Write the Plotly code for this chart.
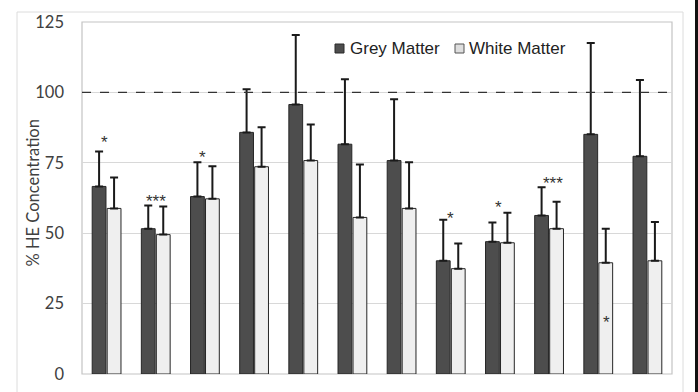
import plotly.graph_objects as go

categories = [f"Region {i}" for i in range(1, 13)]
grey_matter = [66.6, 51.6, 63.0, 85.8, 95.7, 81.6, 75.8, 40.2, 47.0, 56.3, 85.1, 77.3]
grey_err_top = [79.0, 59.8, 75.2, 101.1, 120.4, 104.7, 97.6, 54.8, 53.8, 66.3, 117.5, 104.4]
white_matter = [58.8, 49.5, 62.2, 73.6, 75.8, 55.6, 58.8, 37.4, 46.6, 51.6, 39.5, 40.2]
white_err_top = [69.8, 59.5, 73.8, 87.6, 88.6, 74.4, 75.2, 46.3, 57.3, 61.2, 51.6, 54.0]
series_names = ["Grey Matter", "White Matter"]
y_title = "% HE Concentration"
# significance markers: (category index, label, y value, pixel shift)
sig_marks = [(0, "*", 84, -2), (1, "***", 63, 0), (2, "*", 78.6, -2), (7, "*", 57, 0),
             (8, "*", 60.9, -1), (9, "***", 69.4, 4), (10, "*", 19.9, 8)]
y_ticks = [0, 25, 50, 75, 100, 125]

grey_err = [t - v for t, v in zip(grey_err_top, grey_matter)]
white_err = [t - v for t, v in zip(white_err_top, white_matter)]

W, H = 698, 392
L, R, T, B = 82, 26, 22, 18
PW, PH = W - L - R, H - T - B


def px_x(px):
    return (px - L) / PW


def px_y(py):
    return (H - B - py) / PH


GREY_FILL, WHITE_FILL = "#4d4d4d", "#efefef"

fig = go.Figure()
fig.add_trace(go.Bar(
    x=categories, y=grey_matter, name=series_names[0], showlegend=False,
    marker=dict(color=GREY_FILL, line=dict(color="#262626", width=1)),
    error_y=dict(type="data", symmetric=False, array=grey_err,
                 arrayminus=[0] * len(grey_err), color="#1a1a1a", thickness=2, width=4),
))
fig.add_trace(go.Bar(
    x=categories, y=white_matter, name=series_names[1], showlegend=False,
    marker=dict(color=WHITE_FILL, line=dict(color="#262626", width=1)),
    error_y=dict(type="data", symmetric=False, array=white_err,
                 arrayminus=[0] * len(white_err), color="#1a1a1a", thickness=2, width=4),
))

for idx, label, yv, sh in sig_marks:
    fig.add_annotation(x=categories[idx], y=yv, text=label, showarrow=False,
                       xshift=sh, yshift=-5, yanchor="middle",
                       font=dict(family="Liberation Sans", size=17, color="#333333"))

# legend (drawn manually to match the compact spacing)
legend_items = [(335, 348, GREY_FILL, "#2a2a2a"), (455, 467, "#dedede", "#555555")]
for (sx, tx, fill, edge), name in zip(legend_items, series_names):
    fig.add_shape(type="rect", xref="paper", yref="paper", x0=px_x(sx), x1=px_x(sx + 9),
                  y0=px_y(53), y1=px_y(44), fillcolor=fill, line=dict(color=edge, width=1))
    fig.add_annotation(xref="paper", yref="paper", x=px_x(tx), y=px_y(48.5), text=name,
                       showarrow=False, xanchor="left", yanchor="middle",
                       font=dict(family="Liberation Sans", size=17, color="#222222"))

# y-axis title
fig.add_annotation(xref="paper", yref="paper", x=px_x(32), y=px_y(193.5), text=y_title,
                   textangle=-90, showarrow=False, xanchor="center", yanchor="middle",
                   font=dict(family="Lato, Liberation Sans", size=16.5, color="#404040"))

fig.add_shape(type="line", xref="paper", yref="y", x0=0, x1=1, y0=100, y1=100,
              line=dict(color="#333333", width=1.3, dash="dash"))
fig.add_shape(type="rect", xref="paper", yref="paper", x0=0, x1=1, y0=0, y1=1,
              line=dict(color="#c4c4c4", width=1.2), layer="below")
# faint outer chart frame and dark scan edge
fig.add_shape(type="rect", xref="paper", yref="paper", x0=px_x(17), x1=px_x(683),
              y0=px_y(400), y1=px_y(12), line=dict(color="#dcdcdc", width=1), layer="above")
fig.add_shape(type="rect", xref="paper", yref="paper", x0=px_x(695), x1=px_x(700),
              y0=px_y(400), y1=px_y(-5), fillcolor="#111111", line=dict(width=0))

fig.update_layout(
    width=W, height=H,
    margin=dict(l=L, r=R, t=T, b=B, autoexpand=False),
    paper_bgcolor="white", plot_bgcolor="white",
    barmode="group", bargap=0.39, bargroupgap=0.08,
    font=dict(family="Lato, Liberation Sans", color="#404040"),
    showlegend=False,
    xaxis=dict(showticklabels=False, showgrid=False, ticks="", showline=False),
    yaxis=dict(range=[0, 125], tickvals=y_ticks, showgrid=True, gridcolor="#d8d8d8",
               gridwidth=1.2, zeroline=False, showline=False, ticks="",
               tickfont=dict(size=16.5, color="#404040"), ticklabelstandoff=17),
)

fig.write_html("out.html", config={"displayModeBar": False},
               post_script="document.body.style.margin='0';document.body.style.overflow='hidden';")
